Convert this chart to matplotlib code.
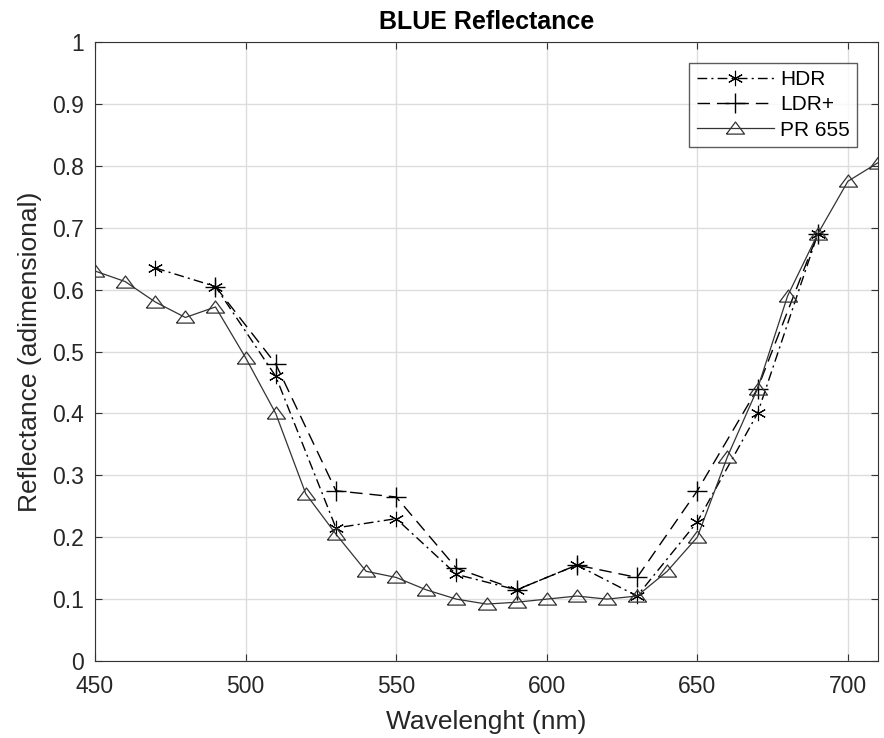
import matplotlib
matplotlib.use("Agg")
import matplotlib.pyplot as plt

plt.rcParams["font.family"] = ["Liberation Sans", "DejaVu Sans"]

# HDR measurements (asterisk markers)
hdr_wl = [470, 490, 510, 530, 550, 570, 590, 610, 630, 650, 670, 690]
hdr_refl = [0.635, 0.605, 0.46, 0.215, 0.23, 0.14, 0.115, 0.155, 0.105, 0.225, 0.40, 0.69]

# LDR+ measurements (plus markers)
ldr_wl = [490, 510, 530, 550, 570, 590, 610, 630, 650, 670, 690]
ldr_refl = [0.605, 0.48, 0.275, 0.265, 0.15, 0.115, 0.155, 0.135, 0.275, 0.44, 0.69]

# PR 655 spectroradiometer (triangle markers)
pr_wl = [450, 460, 470, 480, 490, 500, 510, 520, 530, 540, 550, 560, 570, 580,
         590, 600, 610, 620, 630, 640, 650, 660, 670, 680, 690, 700, 710]
pr_refl = [0.63, 0.613, 0.58, 0.555, 0.572, 0.49, 0.40, 0.27, 0.205, 0.145, 0.135,
           0.115, 0.10, 0.092, 0.095, 0.10, 0.105, 0.10, 0.105, 0.145, 0.20, 0.33,
           0.44, 0.59, 0.69, 0.775, 0.805]

# MATLAB-like wide triangle
tri = [(-1, -0.62), (1, -0.62), (0, 0.72), (-1, -0.62)]

fig = plt.figure(figsize=(8.84, 7.38), dpi=100)
ax = fig.add_axes([0.1075, 0.1043, 0.8857, 0.8388])

ax.plot(hdr_wl, hdr_refl, linestyle=(0, (7, 3, 1.5, 3)), color="black", linewidth=1.0,
        marker=(6, 2, 0), markersize=11, markeredgewidth=0.8, label="HDR")
ax.plot(ldr_wl, ldr_refl, linestyle=(0, (9, 5)), color="black", linewidth=1.0,
        marker="+", markersize=14, markeredgewidth=1.0, label="LDR+")
ax.plot(pr_wl, pr_refl, linestyle="-", color="#333333", linewidth=0.9,
        marker=tri, markersize=13, markerfacecolor="none", markeredgecolor="#333333",
        markeredgewidth=0.9, label="PR 655")

ax.set_xlim(450, 710)
ax.set_ylim(0, 1)
ax.set_xticks(range(450, 701, 50))
ax.set_yticks([i / 10 for i in range(11)])
ax.set_yticklabels(["0", "0.1", "0.2", "0.3", "0.4", "0.5", "0.6", "0.7", "0.8", "0.9", "1"])
ax.grid(True, color="#dddddd", linewidth=1.0)
ax.set_axisbelow(True)
ax.tick_params(direction="in", labelsize=16.5, top=True, right=True, length=5,
               color="#333333", labelcolor="#262626")
ax.tick_params(axis="y", pad=8)
ax.tick_params(axis="x", pad=10)
for s in ax.spines.values():
    s.set_color("#333333")

ax.set_xlabel("Wavelenght (nm)", fontsize=19, color="#262626", labelpad=9)
ax.set_ylabel("Reflectance (adimensional)", fontsize=19, color="#262626", labelpad=7)
ax.set_title("BLUE Reflectance", fontsize=18, fontweight="bold", pad=9)

leg = ax.legend(loc="upper right", fontsize=15, frameon=True, fancybox=False,
                edgecolor="#333333", handlelength=3.7, borderaxespad=1.0,
                labelspacing=0.3, handletextpad=0.3, borderpad=0.35)
leg.get_frame().set_linewidth(1.0)

fig.savefig("out.png", dpi=100)
